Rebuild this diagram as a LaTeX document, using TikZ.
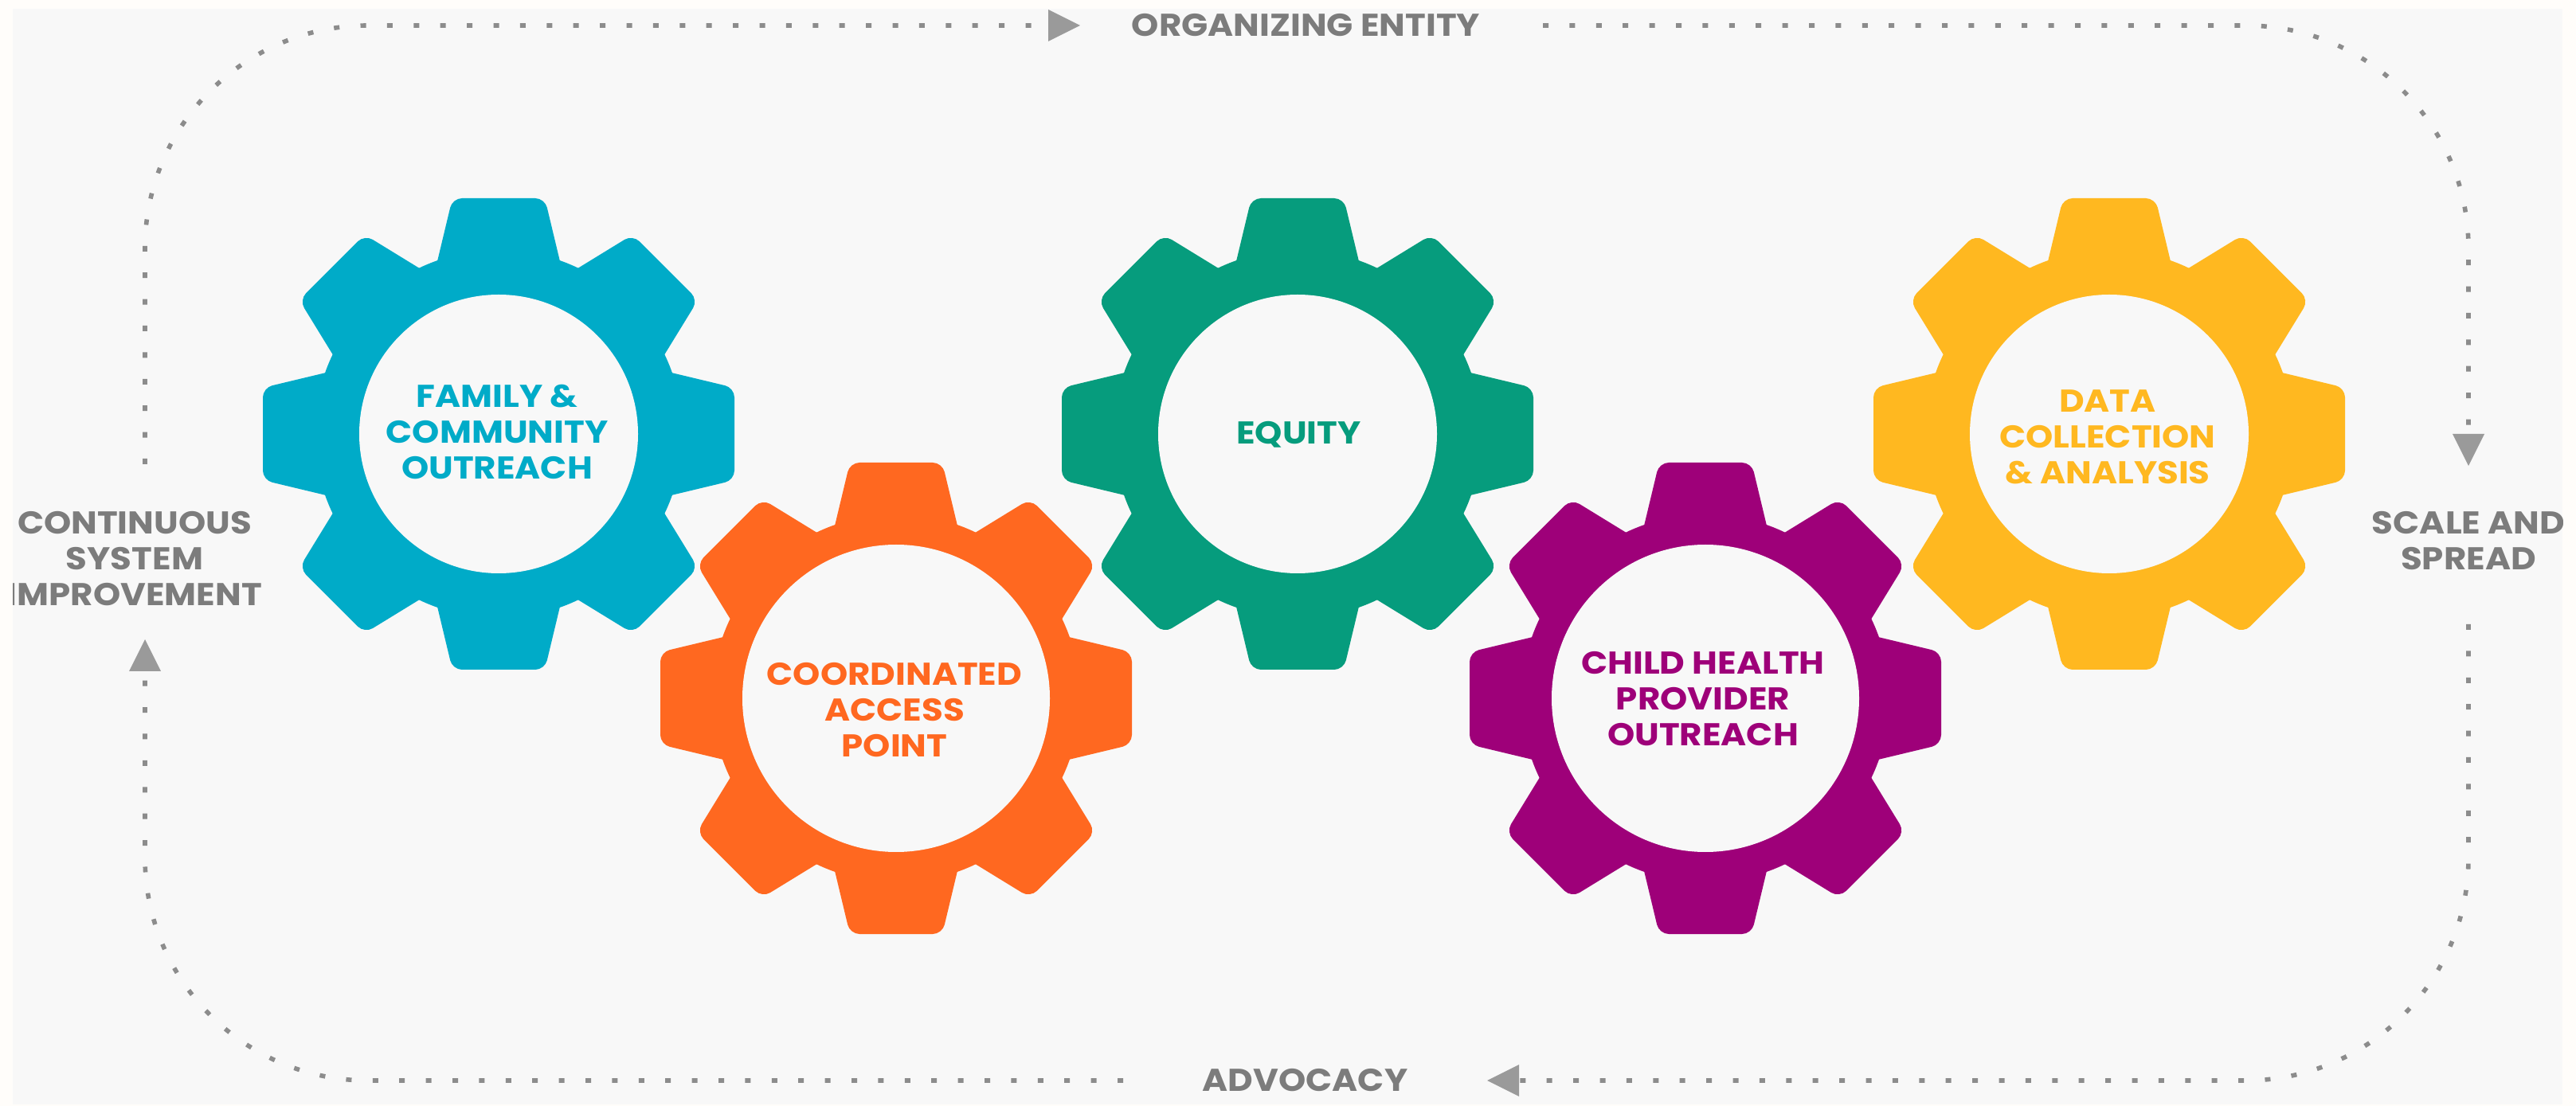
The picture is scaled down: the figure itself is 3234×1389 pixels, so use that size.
\documentclass[tikz,border=0pt]{standalone}
\usepackage{fontspec}
\setmainfont{Poppins}[FakeStretch=1.1]
\usetikzlibrary{arrows.meta}
\definecolor{panel}{HTML}{F8F8F8}
\definecolor{outerbg}{HTML}{FFFDFA}
\definecolor{gblue}{HTML}{00ABC8}
\definecolor{gorange}{HTML}{FF6820}
\definecolor{ggreen}{HTML}{069C7D}
\definecolor{gpurple}{HTML}{9E0079}
\definecolor{gyellow}{HTML}{FFB820}
\definecolor{dotgray}{HTML}{8C8C8C}
\definecolor{arrowgray}{HTML}{9A9A9A}
\definecolor{labelgray}{HTML}{7C7C7C}
\tikzset{
  dotline/.style={draw=dotgray, line width=1.4pt, dash pattern=on 1.75pt off 6.6pt,
    rounded corners=70pt,
    -{Triangle[width=10pt,length=10pt,line width=0pt,color=arrowgray]}},
  lab/.style={font=\fontsize{9.9}{11.25}\selectfont\bfseries, align=center, inner sep=0pt},
  side/.style={lab, text=labelgray},
}
\newcommand{\drawgear}[4]{%
  \begin{scope}[shift={(#1,#2)}]
    \fill[#3] (0,0) circle[radius=231];
    \foreach \a in {0,45,...,315}
      \fill[#3, rotate=\a, rounded corners=3pt] (-93,150) -- (-58,296) -- (58,296) -- (93,150) -- cycle;
    \fill[panel] (0,0) circle[radius=#4];
  \end{scope}}
\begin{document}
\begin{tikzpicture}[x=0.25pt,y=-0.25pt]
\useasboundingbox (0,0) rectangle (3234,1389);
\fill[outerbg] (0,0) rectangle (3234,1389);
\fill[panel] (16,11) rectangle (3217,1387);

\drawgear{626}{545}{gblue}{175}
\drawgear{1125}{877}{gorange}{193}
\drawgear{1629}{545}{ggreen}{175}
\drawgear{2141}{877}{gpurple}{193}
\drawgear{2648}{545}{gyellow}{175}

\node[lab, text=gblue] (fam) at (624,542.5) {FAMILY \&\\COMMUNITY\\OUTREACH};
\node[lab, text=gorange] (cap) at (1123,892) {COORDINATED\\ACCESS\\POINT};
\node[lab, text=ggreen, anchor=base] (equ) at (1630.5,558) {EQUITY};
\node[lab, text=gpurple] (chp) at (2138,878) {CHILD HEALTH\\PROVIDER\\OUTREACH};
\node[lab, text=gyellow] (dca) at (2646,549) {DATA\\COLLECTION\\\& ANALYSIS};

\begin{scope}
\clip (16,11) rectangle (3217,1387);
\node[side] (csi) at (169,701.5) {CONTINUOUS\\SYSTEM\\IMPROVEMENT};
\node[side] (org) at (1639.5,32) {ORGANIZING ENTITY};
\node[side] (sas) at (3099,679) {SCALE AND\\SPREAD};
\node[side] (adv) at (1638.5,1357) {ADVOCACY};
\end{scope}

\coordinate (t1s) at (182,583);
\coordinate (t1e) at (1356,32);
\coordinate (t2s) at (1937,32);
\coordinate (t2e) at (3099,585);
\coordinate (t3s) at (3099,784);
\coordinate (t3e) at (1867,1357);
\coordinate (t4s) at (1410,1357);
\coordinate (t4e) at (182,803);
\draw[dotline] (t1s) |- (t1e);
\draw[dotline] (t2s) -| (t2e);
\draw[dotline] (t3s) |- (t3e);
\draw[dotline] (t4s) -| (t4e);
\end{tikzpicture}
\end{document}
